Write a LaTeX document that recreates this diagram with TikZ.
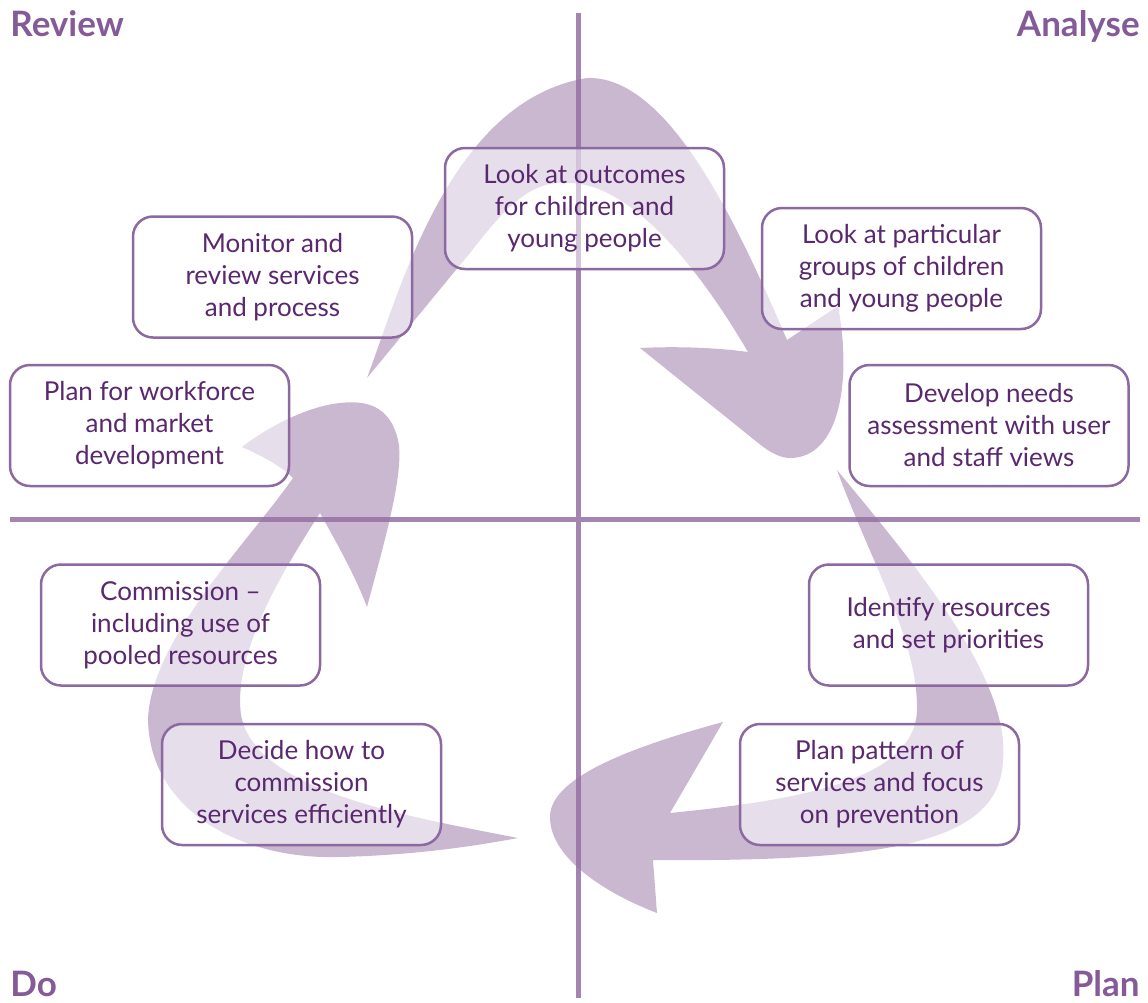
\documentclass[tikz,border=0pt]{standalone}
\usepackage{fontspec}
\setmainfont{Lato}
\definecolor{boxc}{RGB}{140,105,160}
\definecolor{txtc}{RGB}{90,40,110}
\definecolor{ttlc}{RGB}{132,90,152}
\definecolor{linec}{RGB}{164,133,177}
\definecolor{arrc}{RGB}{149,113,163}
\begin{document}
\begin{tikzpicture}[x=0.5pt,y=-0.5pt,
  box/.style={draw=boxc, line width=1.25pt, rounded corners=10pt, fill=white, fill opacity=0.55, text opacity=1,
    minimum width=139.5pt, minimum height=60.5pt, inner sep=0pt, align=center, text=txtc,
    font=\fontsize{13}{16}\selectfont},
  title/.style={text=ttlc, font=\bfseries\fontsize{17.5}{17.5}\selectfont, inner sep=0pt},
  quad/.style={draw=linec, line width=2.5pt},
  swirl/.style={fill=arrc, fill opacity=0.5}]
\useasboundingbox (0,0) rectangle (1148,1003);

% quadrant titles
\node[title, anchor=base west] (review) at (10,36) {Review};
\node[title, anchor=base east] (analyse) at (1140,36) {Analyse};
\node[title, anchor=base west] (do) at (10,996) {Do};
\node[title, anchor=base east] (plan) at (1140,996) {Plan};

% quadrant lines
\draw[quad] (578,13) -- (578,998);
\draw[quad] (10,519) -- (1140,519);

% arrow A (top)
\path[swirl] (367,378) .. controls (400,290) and (450,100) .. (587,78)
  .. controls (670,75) and (740,230) .. (787,340)
  -- (838,306)
  .. controls (852,380) and (840,458) .. (790,458)
  .. controls (780,458) and (770,452) .. (762,446)
  -- (640,348)
  .. controls (680,346) and (720,348) .. (748,352)
  .. controls (700,270) and (630,180) .. (565,183)
  .. controls (520,180) and (490,230) .. (460,265)
  -- cycle;

% arrow B (right, bottom)
\path[swirl] (837,470) .. controls (920,570) and (1010,680) .. (1003,760)
  .. controls (1000,840) and (900,862) .. (653,860)
  -- (657,913)
  .. controls (610,895) and (550,860) .. (550,817)
  .. controls (550,780) and (620,750) .. (723,722)
  -- (670,813)
  .. controls (800,800) and (915,780) .. (917,710)
  .. controls (918,640) and (870,560) .. (837,470)
  -- cycle;

% arrow C (left)
\path[swirl] (518,838) .. controls (400,815) and (255,790) .. (241,715)
  .. controls (232,650) and (290,560) .. (320,513)
  .. controls (335,540) and (355,575) .. (367,607)
  .. controls (385,540) and (405,470) .. (398,440)
  .. controls (390,405) and (365,400) .. (340,403)
  .. controls (310,406) and (270,425) .. (242,447)
  .. controls (260,455) and (280,465) .. (293,478)
  .. controls (250,540) and (150,640) .. (148,720)
  .. controls (150,810) and (240,860) .. (340,857)
  .. controls (420,855) and (480,845) .. (518,838)
  -- cycle;

% boxes
\node[box] (outcomes) at (584.5,208.5) {Look at outcomes\\for children and\\young people};
\node[box] (monitor) at (272.5,277) {Monitor and\\review services\\and process};
\node[box] (groups) at (901.5,268.5) {Look at particular\\groups of children\\and young people};
\node[box] (workforce) at (149.5,425.5) {Plan for workforce\\and market\\development};
\node[box] (needs) at (989,425.5) {Develop needs\\assessment with user\\and staff views};
\node[box] (commission) at (180.5,625) {Commission --\\including use of\\pooled resources};
\node[box] (identify) at (948.5,625) {Identify resources\\and set priorities};
\node[box] (decide) at (301.5,784.5) {Decide how to\\commission\\services efficiently};
\node[box] (pattern) at (879.5,784.5) {Plan pattern of\\services and focus\\on prevention};
\end{tikzpicture}
\end{document}
